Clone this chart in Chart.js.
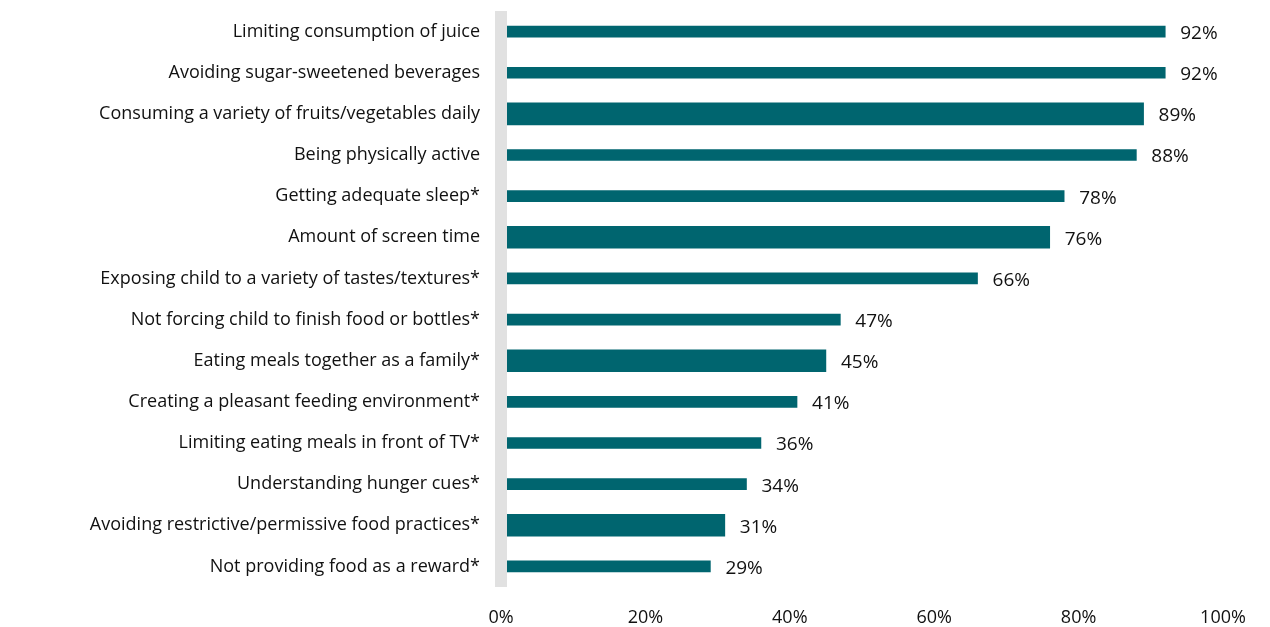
<!DOCTYPE html>
<html>
<head>
<meta charset="utf-8">
<script src="https://cdn.jsdelivr.net/npm/chart.js@4"></script>
<style>
  body { margin: 0; background: #fff; }
  #wrap { width: 1270px; height: 627px; }
</style>
</head>
<body>
<div id="wrap"><canvas id="chart"></canvas></div>
<script>
// categories, top to bottom
const categories = [
  "Limiting consumption of juice",
  "Avoiding sugar-sweetened beverages",
  "Consuming a variety of fruits/vegetables daily",
  "Being physically active",
  "Getting adequate sleep*",
  "Amount of screen time",
  "Exposing child to a variety of tastes/textures*",
  "Not forcing child to finish food or bottles*",
  "Eating meals together as a family*",
  "Creating a pleasant feeding environment*",
  "Limiting eating meals in front of TV*",
  "Understanding hunger cues*",
  "Avoiding restrictive/permissive food practices*",
  "Not providing food as a reward*"
];
const values = [92, 92, 89, 88, 78, 76, 66, 47, 45, 41, 36, 34, 31, 29];
const xTicks = [0, 20, 40, 60, 80, 100];

// rows drawn with a wider bar in the original
const wideRows = [2, 5, 8, 12];
const barColor = "#00656f";

const thinData = values.map((v, i) => wideRows.includes(i) ? null : v);
const wideData = values.map((v, i) => wideRows.includes(i) ? v : null);

// gray band over the value axis origin, then percentage labels
const overlay = {
  id: "overlay",
  afterDatasetsDraw(chart) {
    const a = chart.chartArea;
    const ctx = chart.ctx;
    ctx.save();
    ctx.fillStyle = "#e1e1e1";
    ctx.fillRect(a.left - 6, a.top, 12, a.bottom - a.top);

    ctx.font = "19px 'Open Sans'";
    ctx.fillStyle = "#111";
    ctx.textAlign = "left";
    ctx.textBaseline = "middle";
    chart.data.datasets.forEach((ds, di) => {
      chart.getDatasetMeta(di).data.forEach((bar, i) => {
        if (ds.data[i] == null) return;
        ctx.fillText(ds.data[i] + "%", bar.x + 15, bar.y + 2);
      });
    });
    ctx.restore();
  }
};

new Chart(document.getElementById("chart"), {
  type: "bar",
  data: {
    labels: categories,
    datasets: [
      { data: thinData, backgroundColor: barColor, barThickness: 11, grouped: false },
      { data: wideData, backgroundColor: barColor, barThickness: 22, grouped: false }
    ]
  },
  options: {
    indexAxis: "y",
    responsive: true,
    maintainAspectRatio: false,
    animation: false,
    layout: { padding: { top: 11, right: 47, bottom: 0, left: 0 } },
    plugins: {
      legend: { display: false },
      tooltip: { enabled: false }
    },
    scales: {
      x: {
        min: 0,
        max: 100,
        afterBuildTicks: (s) => { s.ticks = xTicks.map(v => ({ value: v })); },
        afterFit: (s) => { s.height = 40; s.paddingLeft = 0; s.paddingRight = 0; },
        grid: { display: false, drawTicks: false },
        border: { display: false },
        ticks: {
          padding: 20,
          color: "#111",
          font: { family: "'Open Sans'", size: 18 },
          callback: (v) => v + "%"
        }
      },
      y: {
        afterFit: (s) => { s.width = 501; s.paddingTop = 0; s.paddingBottom = 0; },
        grid: { display: false, drawTicks: false },
        border: { display: false },
        ticks: {
          padding: 21,
          color: "#111",
          autoSkip: false,
          font: { family: "'Open Sans'", size: 18 }
        }
      }
    }
  },
  plugins: [overlay]
});
</script>
</body>
</html>
